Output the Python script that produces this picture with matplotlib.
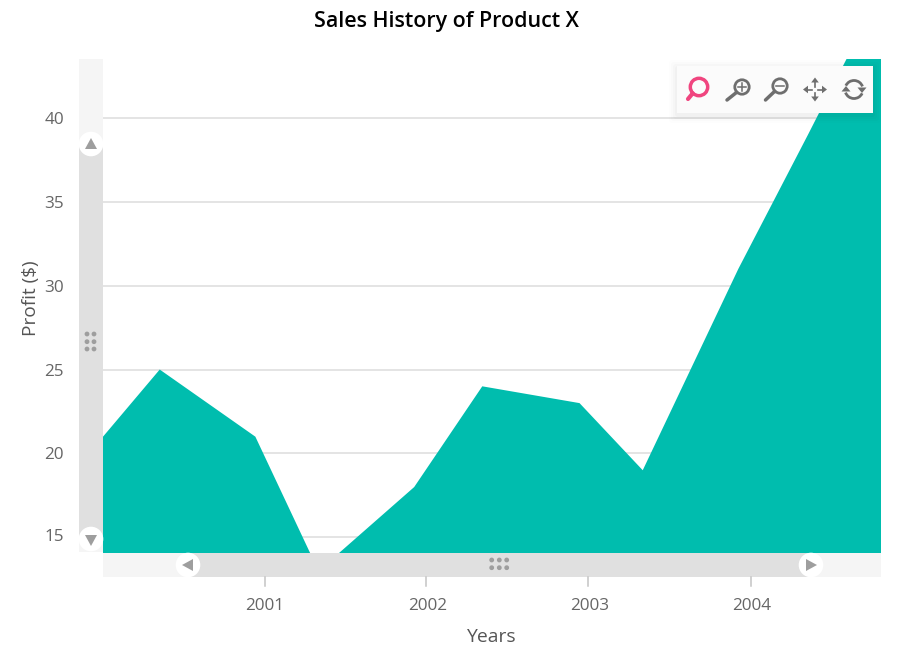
import matplotlib
matplotlib.use("Agg")
import matplotlib.pyplot as plt
from matplotlib.patches import Arc, Circle, Polygon, Rectangle, FancyBboxPatch
from matplotlib.transforms import ScaledTranslation

plt.rcParams['font.family'] = ['Open Sans', 'DejaVu Sans']

years = [1999.93, 2000.35, 2000.94, 2001.33, 2001.92, 2002.34, 2002.94, 2003.33, 2003.92, 2004.35, 2004.93]
profit = [20.2, 25, 21, 13, 18, 24, 23, 19, 31, 39, 50]
x_ticks = [2001, 2002, 2003, 2004]
y_ticks = [15, 20, 25, 30, 35, 40]

W, H = 907, 650
TEAL = "#00bdae"
GRIP = "#9e9e9e"
ICON = "#6e6e6e"
PINK = "#f0457f"

fig = plt.figure(figsize=(W / 100, H / 100), dpi=100)
ax = fig.add_axes([103 / W, 1 - 552.5 / H, (881 - 103) / W, (552.5 - 59) / H])
ax.fill_between(years, profit, 0, color=TEAL, lw=0, zorder=3)
ax.set_xlim(2000, 2004.8)
ax.set_ylim(14.1, 43.5)
ax.set_xticks(x_ticks)
ax.set_yticks(y_ticks)
ax.set_xticklabels([str(v) for v in x_ticks])
ax.grid(axis="y", color="#dcdcdc", lw=1.1, zorder=1)
ax.set_axisbelow(True)
for s in ax.spines.values():
    s.set_visible(False)
ax.tick_params(axis="y", length=0, pad=28, labelsize=12.3, labelcolor="#666666")
ax.tick_params(axis="x", length=0, pad=33, labelsize=12.3, labelcolor="#666666")
# lowest label sits a little above its tick
low = ax.get_yticklabels()[0]
low.set_transform(low.get_transform() + ScaledTranslation(0, 1.5 / 72, fig.dpi_scale_trans))

fig.text(492 / W, 1 - 637 / H, "Years", ha="center", va="center", fontsize=13.9, color="#555555")
fig.text(31 / W, 1 - 298 / H, "Profit ($)", ha="center", va="center", rotation=90, fontsize=13.7, color="#555555")
fig.text(446.5 / W, 1 - 21 / H, "Sales History of Product X", ha="center", va="center",
         fontsize=15.4, fontweight=600, color="black")

# pixel space overlay for the scrollbars and the zoom toolbar
ui = fig.add_axes([0, 0, 1, 1], zorder=10)
ui.set_xlim(0, W)
ui.set_ylim(H, 0)
ui.axis("off")
ui.patch.set_alpha(0)


def rect(x0, y0, x1, y1, color, z=1):
    ui.add_patch(Rectangle((x0, y0), x1 - x0, y1 - y0, fc=color, ec="none", zorder=z))


def tri(pts, color=GRIP, z=4):
    ui.add_patch(Polygon(pts, closed=True, fc=color, ec="none", zorder=z))


def grip(xs, ys):
    for gx in xs:
        for gy in ys:
            ui.add_patch(Circle((gx, gy), 2.4, fc=GRIP, ec="none", zorder=4))


# vertical scrollbar
rect(79, 59, 103, 552, "#f5f5f5")
rect(79, 144, 103, 539, "#e0e0e0", 2)
ui.add_patch(Circle((91, 144), 12.3, fc="white", ec="none", zorder=3))
ui.add_patch(Circle((91, 539), 12.3, fc="white", ec="none", zorder=3))
tri([(85, 149), (97, 149), (91, 138)])
tri([(85, 535), (97, 535), (91, 546)])
grip([87, 94], [334, 341.7, 349])

# horizontal scrollbar
rect(103, 553, 881, 577, "#f5f5f5")
rect(188, 553, 811, 577, "#e0e0e0", 2)
ui.add_patch(Circle((188, 565), 12.3, fc="white", ec="none", zorder=3))
ui.add_patch(Circle((811, 565), 12.3, fc="white", ec="none", zorder=3))
tri([(193, 559), (193, 571), (182, 565)])
tri([(806, 559), (806, 571), (817, 565)])
grip([491.7, 499.3, 506.7], [560, 567.7])

# axis ticks under the scrollbar
for px in (265, 426, 588, 751):
    ui.plot([px, px], [577, 586], color="#c4c4c4", lw=1.1, zorder=2)

# toolbar with a soft shadow
for i, a in zip((8, 6, 4, 2), (0.008, 0.012, 0.016, 0.02)):
    ui.add_patch(FancyBboxPatch((677 - i, 66 - i + 2), 196 + 2 * i, 47 + 2 * i,
                                boxstyle="round,pad=0,rounding_size=3",
                                fc="black", ec="none", alpha=a, zorder=5))
rect(677, 66, 873, 113, "#fbfbfb", 6)


def lens(cx, cy, color, r=7.2, lw=2.0, hx=0, hy=0):
    ui.add_patch(Circle((cx, cy), r, fc="none", ec=color, lw=lw, zorder=7))
    ui.plot([cx - r * 0.72, hx], [cy + r * 0.72, hy], color=color, lw=lw + 0.5, zorder=7, solid_capstyle="round")


lens(699, 87, PINK, r=8.7, lw=2.5, hx=688, hy=99)
lens(742, 87, ICON, hx=727, hy=100)
ui.plot([738, 746], [87, 87], color=ICON, lw=1.1, zorder=7)
ui.plot([742, 742], [83, 91], color=ICON, lw=1.1, zorder=7)
lens(780, 86, ICON, hx=765.5, hy=100)
ui.plot([776, 784], [86, 86], color=ICON, lw=1.1, zorder=7)

# pan icon
for dx, dy in ((0, -1), (0, 1), (-1, 0), (1, 0)):
    ui.plot([815 + 3 * dx, 815 + 8 * dx], [89.5 + 3 * dy, 89.5 + 8 * dy], color=ICON, lw=1.2, zorder=7)
    px, py = 815 + 12 * dx, 89.5 + 12 * dy
    tri([(px, py), (px - 5 * dx + 3.8 * dy, py - 5 * dy + 3.8 * dx),
         (px - 5 * dx - 3.8 * dy, py - 5 * dy - 3.8 * dx)], ICON, 7)

# reset icon
ui.add_patch(Arc((854, 89.5), 18, 18, theta1=205, theta2=340, ec=ICON, lw=2, zorder=7))
ui.add_patch(Arc((854, 89.5), 18, 18, theta1=25, theta2=160, ec=ICON, lw=2, zorder=7))
tri([(857.5, 87.5), (866.5, 87.5), (862, 93)], ICON, 7)
tri([(841.5, 91.5), (850.5, 91.5), (846, 86)], ICON, 7)

fig.savefig("out.png", dpi=100, facecolor="white")
